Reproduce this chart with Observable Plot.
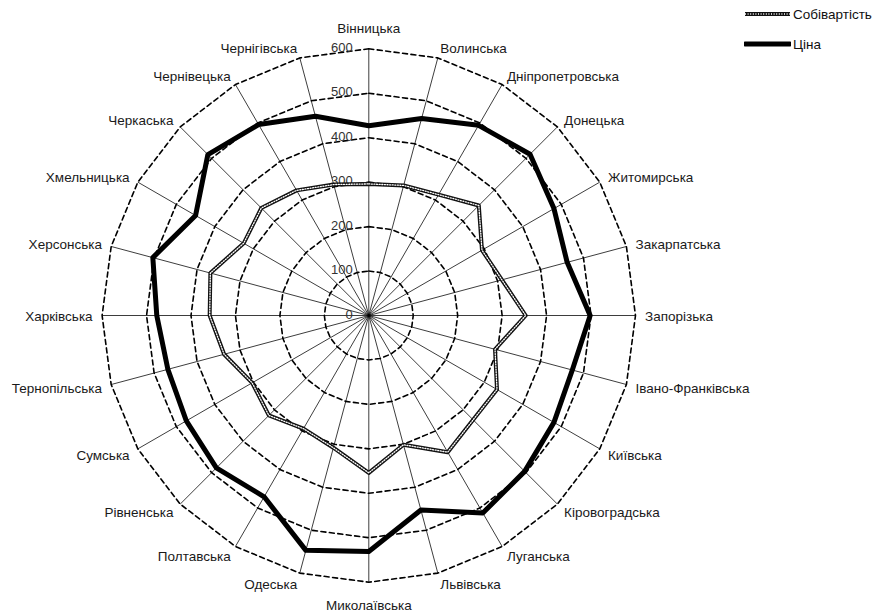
<!DOCTYPE html>
<html><head><meta charset="utf-8">
<script src="https://cdn.jsdelivr.net/npm/d3@7"></script>
<script src="https://cdn.jsdelivr.net/npm/@observablehq/plot@0.6"></script>
<style>
body{margin:0;background:#fff;}
#wrap{position:relative;width:872px;height:612px;font-family:"Liberation Sans",Arial,sans-serif;}
.leg{position:absolute;left:744px;height:16px;display:flex;align-items:center;font-size:13.5px;color:#111;}
.leg svg{margin-right:2px;}
</style></head><body>
<div id="wrap"></div>
<script>
const regions = ["Вінницька","Волинська","Дніпропетровська","Донецька","Житомирська","Закарпатська","Запорізька","Івано-Франківська","Київська","Кіровоградська","Луганська","Львівська","Миколаївська","Одеська","Полтавська","Рівненська","Сумська","Тернопільська","Харківська","Херсонська","Хмельницька","Черкаська","Чернівецька","Чернігівська"];
const cost  = [296,303,314,350,294,310,353,294,333,332,355,301,354,308,294,318,303,337,358,369,325,342,325,305];
const price = [427,459,494,513,481,462,498,474,481,496,513,453,531,547,471,485,474,468,477,503,450,512,496,464];
const ticks = [0,100,200,300,400,500,600];
const seriesNames = ["Собівартість","Ціна"];

const cx = 368.3, cy = 315, R = 266.7, vmax = 600;
const k = R / vmax; // px per unit
const n = regions.length;
const ang = i => i * 2 * Math.PI / n;

const pts = arr => arr.map((v, i) => ({name: regions[i], v, x: v * Math.sin(ang(i)), y: v * Math.cos(ang(i))}));
const costPts = pts(cost), pricePts = pts(price);

const rings = ticks.filter(t => t > 0).flatMap(t => regions.map((r, i) => ({t, x: t * Math.sin(ang(i)), y: t * Math.cos(ang(i))})));
const spokes = regions.map((r, i) => ({x2: vmax * Math.sin(ang(i)), y2: vmax * Math.cos(ang(i))}));

const labels = regions.map((r, i) => {
  const s = Math.sin(ang(i)), c = Math.cos(ang(i));
  let anchor, dxp, dyp;
  if (Math.abs(s) < 1e-6) {
    anchor = "middle"; dxp = 0; dyp = c > 0 ? -20 : 23;
  } else {
    anchor = s > 0 ? "start" : "end";
    dxp = 9.5 * s; dyp = -10.5 * c + 1.2;
  }
  return {name: r, anchor, x: vmax * s + dxp / k, y: vmax * c - dyp / k};
});

const font = '"Liberation Sans", Arial, sans-serif';
const chart = Plot.plot({
  width: 872, height: 612,
  marginLeft: 0, marginRight: 0, marginTop: 0, marginBottom: 0,
  style: {fontFamily: font, background: "#fff", overflow: "visible"},
  x: {domain: [-vmax, vmax], range: [cx - R, cx + R], axis: null},
  y: {domain: [-vmax, vmax], range: [cy + R, cy - R], axis: null},
  marks: [
    Plot.link(spokes, {x1: () => 0, y1: () => 0, x2: "x2", y2: "y2", stroke: "#000", strokeWidth: 0.9, strokeOpacity: 0.85}),
    Plot.line(rings, {x: "x", y: "y", z: "t", curve: "linear-closed", stroke: "#000", strokeWidth: 1.6, strokeDasharray: "5,3.5"}),
    Plot.text(ticks, {x: () => 0, y: d => d, text: d => String(d), textAnchor: "end", dx: -16, dy: -1, fontSize: 13, fill: "#333"}),
    Plot.line(costPts, {x: "x", y: "y", curve: "linear-closed", stroke: "#111", strokeWidth: 4}),
    Plot.line(costPts, {x: "x", y: "y", curve: "linear-closed", stroke: "#fff", strokeWidth: 1.3, strokeDasharray: "1,1.6"}),
    Plot.line(pricePts, {x: "x", y: "y", curve: "linear-closed", stroke: "#000", strokeWidth: 5, strokeLinejoin: "round"}),
    ...["start", "end", "middle"].map(a => Plot.text(labels.filter(l => l.anchor === a), {x: "x", y: "y", text: "name", textAnchor: a, lineAnchor: "middle", fontSize: 13.5, fill: "#1a1a1a"}))
  ]
});
const wrap = document.getElementById("wrap");
wrap.appendChild(chart);

function legendItem(label, top, kind) {
  const d = document.createElement("div");
  d.className = "leg";
  d.style.top = top + "px";
  const line = kind === "cost"
    ? '<line x1="1" y1="8" x2="46" y2="8" stroke="#111" stroke-width="4"/><line x1="1" y1="8" x2="46" y2="8" stroke="#fff" stroke-width="1.3" stroke-dasharray="1,1.6"/>'
    : '<line x1="1" y1="8" x2="46" y2="8" stroke="#000" stroke-width="5" stroke-linecap="round"/>';
  d.innerHTML = '<svg width="47" height="16">' + line + '</svg><span>' + label + '</span>';
  wrap.appendChild(d);
}
legendItem(seriesNames[0], 6, "cost");
legendItem(seriesNames[1], 36, "price");
</script>
</body></html>
